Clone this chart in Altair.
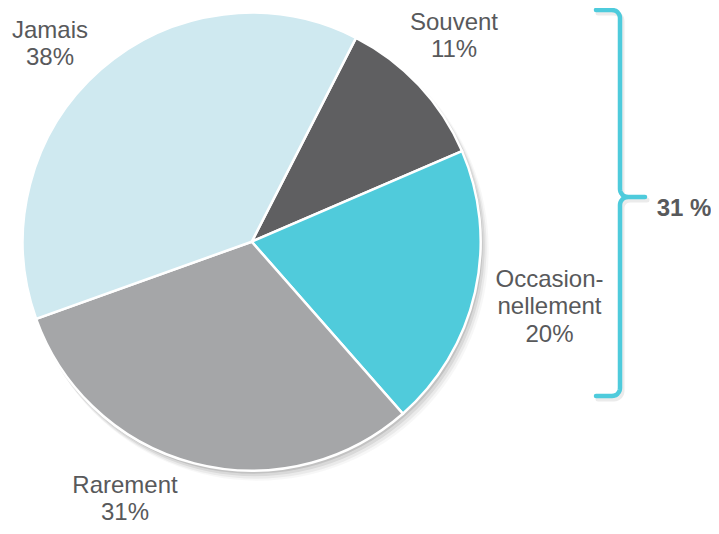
import math
import altair as alt
import pandas as pd

# ---- data ----
categories = ["Souvent", "Occasionnellement", "Rarement", "Jamais"]
values = [11, 20, 31, 38]
label_lines = [["Souvent", "11%"], ["Occasion-", "nellement", "20%"], ["Rarement", "31%"], ["Jamais", "38%"]]
colors = ["#5f5f61", "#50cbdb", "#a5a6a8", "#cfe9f0"]
bracket_label = "31 %"

# ---- layout (chart pixel coordinates; page = chart + 8) ----
W, H = 703, 518
CX, CY, R = 243.7, 233.7, 229
START = math.radians(27.1)
label_pos = [(446, 21.5), (541.5, 278.7), (117, 484.5), (42, 29.5)]
FONT = "Liberation Sans"
TXT = "#58595b"

pie_df = pd.DataFrame({"cat": categories, "val": values, "order": list(range(len(values)))})
lab_df = pd.DataFrame({
    "text": label_lines,
    "x": [p[0] for p in label_pos],
    "y": [p[1] for p in label_pos],
})

one = pd.DataFrame({"a": [0]})
shadows = []
for dx, dy, rr, op in [(1.5, 2.5, R + 0.5, 0.10), (3, 4.5, R + 1, 0.07), (4.5, 6.5, R + 1.5, 0.05), (6, 8, R + 2, 0.03)]:
    shadows.append(
        alt.Chart(one).mark_arc(theta=0, theta2=2 * math.pi, outerRadius=rr, color="#000000", opacity=op)
        .encode(x=alt.value(CX + dx), y=alt.value(CY + dy))
    )

pie = alt.Chart(pie_df).mark_arc(outerRadius=R, stroke="white", strokeWidth=2.5).encode(
    theta=alt.Theta("val:Q", stack=True, scale=alt.Scale(range=[START, START + 2 * math.pi])),
    color=alt.Color("cat:N", scale=alt.Scale(domain=categories, range=colors), legend=None),
    order=alt.Order("order:Q"),
    x=alt.value(CX),
    y=alt.value(CY),
)

labels = alt.Chart(lab_df).mark_text(
    font=FONT, fontSize=24, color=TXT, align="center", baseline="alphabetic", lineHeight=27.5
).encode(
    x=alt.X("x:Q", scale=None, axis=None),
    y=alt.Y("y:Q", scale=None, axis=None),
    text="text",
)

# curly brace geometry
def arc_pts(cx, cy, r, a0, a1, n=8):
    return [(cx + r * math.cos(math.radians(a0 + (a1 - a0) * k / n)),
             cy + r * math.sin(math.radians(a0 + (a1 - a0) * k / n))) for k in range(n + 1)]

bx, top, nub, bot, left, tip, r = 612, 2, 189, 388, 588, 637, 8
pts = [(left, top)]
pts += arc_pts(bx - r, top + r, r, -90, 0)
pts += arc_pts(bx + r, nub - r, r, 180, 90)
pts += [(tip, nub), (bx + r, nub)]
pts += arc_pts(bx + r, nub + r, r, 270, 180)
pts += arc_pts(bx - r, bot - r, r, 0, 90)
pts += [(left, bot)]
brace_df = pd.DataFrame({"x": [p[0] for p in pts], "y": [p[1] for p in pts], "i": list(range(len(pts)))})

brace_shadow = alt.Chart(brace_df).mark_line(color="#000000", opacity=0.08, strokeWidth=5, strokeCap="round", strokeJoin="round").encode(
    x=alt.X("x:Q", scale=None, axis=None), y=alt.Y("y:Q", scale=None, axis=None), order="i:Q",
    xOffset=alt.value(2), yOffset=alt.value(3),
)
brace = alt.Chart(brace_df).mark_line(color="#4ecbdc", strokeWidth=4.5, strokeCap="round", strokeJoin="round").encode(
    x=alt.X("x:Q", scale=None, axis=None), y=alt.Y("y:Q", scale=None, axis=None), order="i:Q",
)

blabel = alt.Chart(pd.DataFrame({"t": [bracket_label]})).mark_text(
    font=FONT, fontSize=24, fontWeight="bold", color=TXT, align="center", baseline="alphabetic"
).encode(x=alt.value(676), y=alt.value(208), text="t:N")

chart = alt.layer(*shadows, pie, labels, brace_shadow, brace, blabel).properties(
    width=W, height=H, padding=0, autosize=alt.AutoSizeParams(type="none")
).configure_view(stroke=None)

chart.save("out.html", embed_options={"renderer": "svg", "actions": False})
